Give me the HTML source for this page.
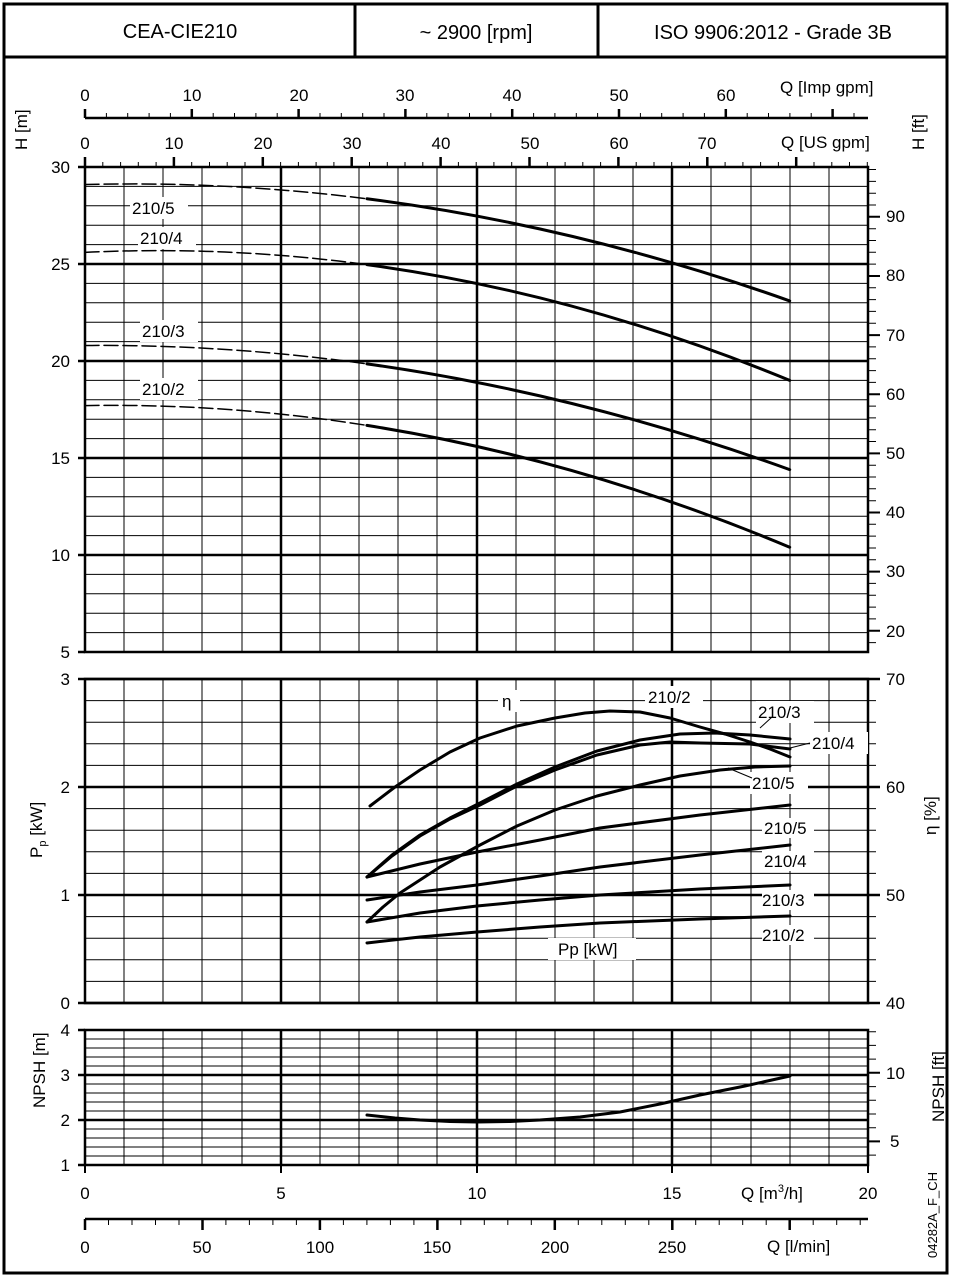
<!DOCTYPE html>
<html><head><meta charset="utf-8"><style>
html,body{margin:0;padding:0;background:#fff;}
svg{display:block;font-family:"Liberation Sans",Arial,sans-serif;}
</style></head><body>
<svg width="953" height="1278" viewBox="0 0 953 1278" xmlns="http://www.w3.org/2000/svg">
<rect x="0" y="0" width="953" height="1278" fill="#fff"/>
<g stroke="#000" fill="none">
<!-- thin verticals -->
<path stroke-width="1" d="M124 167V652M163 167V652M202 167V652M242 167V652M320 167V652M359 167V652M398 167V652M437 167V652M516 167V652M555 167V652M594 167V652M633 167V652M711 167V652M751 167V652M790 167V652M829 167V652
M124 679V1003M163 679V1003M202 679V1003M242 679V1003M320 679V1003M359 679V1003M398 679V1003M437 679V1003M516 679V1003M555 679V1003M594 679V1003M633 679V1003M711 679V1003M751 679V1003M790 679V1003M829 679V1003
M124 1030V1165M163 1030V1165M202 1030V1165M242 1030V1165M320 1030V1165M359 1030V1165M398 1030V1165M437 1030V1165M516 1030V1165M555 1030V1165M594 1030V1165M633 1030V1165M711 1030V1165M751 1030V1165M790 1030V1165M829 1030V1165"/>
<path stroke-width="2.5" d="M281 167V652M477 167V652M672 167V652M281 679V1003M477 679V1003M672 679V1003M281 1030V1165M477 1030V1165M672 1030V1165"/>
<!-- thin horizontals top -->
<path stroke-width="1" d="M85 632.6H868M85 613.2H868M85 593.8H868M85 574.4H868M85 535.6H868M85 516.2H868M85 496.8H868M85 477.4H868M85 438.6H868M85 419.2H868M85 399.8H868M85 380.4H868M85 341.6H868M85 322.2H868M85 302.8H868M85 283.4H868M85 244.6H868M85 225.2H868M85 205.8H868M85 186.4H868
M85 981.4H876M85 959.8H876M85 938.2H876M85 916.6H876M85 873.4H876M85 851.8H876M85 830.2H876M85 808.6H876M85 765.4H876M85 743.8H876M85 722.2H876M85 700.6H876
M85 1156H868M85 1147H868M85 1138H868M85 1129H868M85 1111H868M85 1102H868M85 1093H868M85 1084H868M85 1066H868M85 1057H868M85 1048H868M85 1039H868"/>
<path stroke-width="2.5" d="M78 555H868M78 458H868M78 361H868M78 264H868M78 167H85M78 652H85
M78 895H880M78 787H880M78 679H880M78 1003H880
M78 1120H868M78 1075H868M78 1030H85M78 1165H85"/>
<!-- right ft ticks top -->
<path stroke-width="1" d="M868 642.6h8M868 618.9h8M868 607.1h8M868 595.3h8M868 583.4h8M868 559.8h8M868 548h8M868 536.1h8M868 524.3h8M868 500.7h8M868 488.8h8M868 477h8M868 465.2h8M868 441.5h8M868 429.7h8M868 417.9h8M868 406.1h8M868 382.4h8M868 370.6h8M868 358.7h8M868 346.9h8M868 323.3h8M868 311.4h8M868 299.6h8M868 287.8h8M868 264.1h8M868 252.3h8M868 240.5h8M868 228.7h8M868 205h8M868 193.2h8M868 181.4h8M868 169.5h8
M868 1155.1h8M868 1127.7h8M868 1114h8M868 1100.3h8M868 1086.6h8M868 1059.1h8M868 1045.4h8M868 1031.7h8"/>
<path stroke-width="2" d="M868 630.7h12M868 571.6h12M868 512.5h12M868 453.4h12M868 394.2h12M868 335.1h12M868 276h12M868 216.8h12M868 1141.4h12M868 1072.8h12"/>
<!-- frames -->
<rect x="85" y="167" width="783" height="485" stroke-width="2.5"/>
<rect x="85" y="679" width="783" height="324" stroke-width="2.5"/>
<rect x="85" y="1030" width="783" height="135" stroke-width="2.5"/>
<path stroke-width="2" d="M85 1165v8M281 1165v8M477 1165v8M672 1165v8M868 1165v8"/>
<!-- Imp gpm axis -->
<path stroke-width="2.5" d="M85 118H868M85 118V109M191.8 118V109M298.6 118V109M405.4 118V109M512.2 118V109M619 118V109M725.8 118V109M832.6 118V109"/>
<path stroke-width="1" d="M106.4 118v-5M127.7 118v-5M149.1 118v-5M170.4 118v-5M213.2 118v-5M234.5 118v-5M255.9 118v-5M277.2 118v-5M320 118v-5M341.3 118v-5M362.7 118v-5M384 118v-5M426.8 118v-5M448.1 118v-5M469.5 118v-5M490.8 118v-5M533.6 118v-5M554.9 118v-5M576.3 118v-5M597.6 118v-5M640.4 118v-5M661.7 118v-5M683.1 118v-5M704.4 118v-5M747.2 118v-5M768.5 118v-5M789.9 118v-5M811.2 118v-5M854 118v-5"/>
<!-- US gpm ticks -->
<path stroke-width="2.5" d="M85 167v-10M173.9 167v-10M262.8 167v-10M351.7 167v-10M440.6 167v-10M529.5 167v-10M618.4 167v-10M707.3 167v-10M796.2 167v-10"/>
<path stroke-width="1" d="M102.8 167v-5M120.6 167v-5M138.3 167v-5M156.1 167v-5M191.7 167v-5M209.5 167v-5M227.2 167v-5M245 167v-5M280.6 167v-5M298.4 167v-5M316.1 167v-5M333.9 167v-5M369.5 167v-5M387.3 167v-5M405 167v-5M422.8 167v-5M458.4 167v-5M476.2 167v-5M493.9 167v-5M511.7 167v-5M547.3 167v-5M565.1 167v-5M582.8 167v-5M600.6 167v-5M636.2 167v-5M654 167v-5M671.7 167v-5M689.5 167v-5M725.1 167v-5M742.9 167v-5M760.6 167v-5M778.4 167v-5M814 167v-5M831.8 167v-5M849.5 167v-5M867.3 167v-5"/>
<!-- l/min axis -->
<path stroke-width="2.5" d="M85 1219H868M85 1219v11M202.5 1219v11M319.9 1219v11M437.4 1219v11M554.8 1219v11M672.3 1219v11M789.7 1219v11"/>
<path stroke-width="1" d="M108.5 1219v6M132 1219v6M155.5 1219v6M179 1219v6M225.9 1219v6M249.4 1219v6M272.9 1219v6M296.4 1219v6M343.4 1219v6M366.9 1219v6M390.4 1219v6M413.9 1219v6M460.8 1219v6M484.3 1219v6M507.8 1219v6M531.3 1219v6M578.3 1219v6M601.8 1219v6M625.3 1219v6M648.8 1219v6M695.7 1219v6M719.2 1219v6M742.7 1219v6M766.2 1219v6M813.2 1219v6M836.7 1219v6M860.2 1219v6"/>
</g>
<!-- curves -->
<g fill="none" stroke="#000" stroke-linecap="round" stroke-linejoin="round">
<g stroke-width="1.5" stroke-dasharray="14 5">
<path d="M85 184.5Q225.9 181 366.9 198.8"/>
<path d="M85 252.4Q225.9 245.6 366.9 264.6"/>
<path d="M85 345.5Q225.9 344.3 366.9 363.9"/>
<path d="M85 405.6Q225.9 403.2 366.9 425.4"/>
</g>
<g stroke-width="3">
<path d="M366.9 198.8Q578.3 225.8 789.7 300.9"/>
<path d="M366.9 264.6Q578.3 293.3 789.7 380.4"/>
<path d="M366.9 363.9Q578.3 393.4 789.7 469.6"/>
<path d="M366.9 425.4Q578.3 458.6 789.7 547.2"/>
<!-- efficiency -->
<path d="M370 806L395 787L420 770L450 752L480 738L517 726L555 718L585 713L610 711L640 712L670 718L700 727L725 734L750 742L770 749L790 757"/>
<path d="M367 877L392 855L420 835L450 818L480 803L517 784L555 767L597 751L640 740L680 734L715 733L750 735L790 739"/>
<path d="M367 877L392 856L420 836L450 819L480 805L517 786L555 770L597 755L640 745L670 742L700 743L750 744L790 749"/>
<path d="M367 922L383 907L400 893L440 867L480 845L517 826L555 810L597 796L640 785L680 776L720 770L755 767L790 766"/>
<!-- Pp -->
<path d="M367 877L420 864L477 852L540 840L600 828L700 815L790 805"/>
<path d="M367 900L420 892L477 885L540 876L600 867L700 855L790 845"/>
<path d="M367 922L420 913L477 906L540 900L600 895L700 889L790 885"/>
<path d="M367 943L420 937L477 932L540 927L600 923L700 919L790 916"/>
<!-- NPSH -->
<path d="M367 1115L395 1118L420 1120L450 1121.5L477 1122L510 1121.5L540 1120L580 1117L620 1112L660 1104L700 1095L745 1086L790 1076"/>
</g>
</g>
<!-- outer frame and header -->
<rect x="4" y="4" width="943" height="1269" fill="none" stroke="#000" stroke-width="3"/>
<line x1="4" y1="57" x2="947" y2="57" stroke="#000" stroke-width="3"/>
<line x1="355" y1="4" x2="355" y2="57" stroke="#000" stroke-width="3"/>
<line x1="598" y1="4" x2="598" y2="57" stroke="#000" stroke-width="3"/>
<g font-size="20" text-anchor="middle" fill="#000">
<text x="180" y="38">CEA-CIE210</text>
<text x="476" y="39">~ 2900 [rpm]</text>
<text x="773" y="39">ISO 9906:2012 - Grade 3B</text>
</g>
<g font-size="17" fill="#000">
<g text-anchor="middle">
<text x="85" y="101">0</text><text x="192" y="101">10</text><text x="299" y="101">20</text><text x="405" y="101">30</text><text x="512" y="101">40</text><text x="619" y="101">50</text><text x="726" y="101">60</text>
<text x="85" y="149">0</text><text x="174" y="149">10</text><text x="263" y="149">20</text><text x="352" y="149">30</text><text x="441" y="149">40</text><text x="530" y="149">50</text><text x="619" y="149">60</text><text x="707" y="149">70</text>
</g>
<text x="780" y="93">Q [Imp gpm]</text>
<text x="781" y="148">Q [US gpm]</text>
<g text-anchor="end">
<text x="70" y="173">30</text><text x="70" y="270">25</text><text x="70" y="367">20</text><text x="70" y="464">15</text><text x="70" y="561">10</text><text x="70" y="658">5</text>
<text x="70" y="685">3</text><text x="70" y="793">2</text><text x="70" y="901">1</text><text x="70" y="1009">0</text>
<text x="70" y="1036">4</text><text x="70" y="1081">3</text><text x="70" y="1126">2</text><text x="70" y="1171">1</text>
</g>
<g>
<text x="886" y="222">90</text><text x="886" y="281">80</text><text x="886" y="341">70</text><text x="886" y="400">60</text><text x="886" y="459">50</text><text x="886" y="518">40</text><text x="886" y="577">30</text><text x="886" y="637">20</text>
<text x="886" y="685">70</text><text x="886" y="793">60</text><text x="886" y="901">50</text><text x="886" y="1009">40</text>
<text x="886" y="1079">10</text><text x="890" y="1147">5</text>
</g>
<g text-anchor="middle">
<text x="85" y="1199">0</text><text x="281" y="1199">5</text><text x="477" y="1199">10</text><text x="672" y="1199">15</text><text x="868" y="1199">20</text>
<text x="85" y="1253">0</text><text x="202" y="1253">50</text><text x="320" y="1253">100</text><text x="437" y="1253">150</text><text x="555" y="1253">200</text><text x="672" y="1253">250</text>
</g>
<text x="741" y="1199">Q [m<tspan font-size="11" dy="-7">3</tspan><tspan dy="7">/h]</tspan></text>
<text x="767" y="1252">Q [l/min]</text>
<text transform="translate(27,150) rotate(-90)">H [m]</text>
<text transform="translate(924,150) rotate(-90)">H [ft]</text>
<text transform="translate(42,858) rotate(-90)">P<tspan font-size="11" dy="4">p</tspan><tspan dy="-4"> [kW]</tspan></text>
<text transform="translate(936,835) rotate(-90)">η [%]</text>
<text transform="translate(45,1108) rotate(-90)">NPSH [m]</text>
<text transform="translate(944,1122) rotate(-90)">NPSH [ft]</text>
<text font-size="13" transform="translate(937,1258) rotate(-90)">04282A_F_CH</text>
</g>
<g font-size="17" fill="#000">
<rect x="130" y="197" width="58" height="22" fill="#fff"/><text x="132" y="214">210/5</text>
<rect x="138" y="227" width="58" height="22" fill="#fff"/><text x="140" y="244">210/4</text>
<rect x="140" y="320" width="58" height="22" fill="#fff"/><text x="142" y="337">210/3</text>
<rect x="140" y="378" width="58" height="22" fill="#fff"/><text x="142" y="395">210/2</text>
<rect x="498" y="690" width="22" height="22" fill="#fff"/><text x="502" y="707">η</text>
<rect x="645" y="686" width="58" height="22" fill="#fff"/><text x="648" y="703">210/2</text>
<rect x="756" y="701" width="58" height="22" fill="#fff"/><text x="758" y="718">210/3</text>
<rect x="810" y="732" width="58" height="22" fill="#fff"/><text x="812" y="749">210/4</text>
<rect x="750" y="772" width="58" height="22" fill="#fff"/><text x="752" y="789">210/5</text>
<rect x="762" y="818" width="52" height="20" fill="#fff"/><text x="764" y="834">210/5</text>
<rect x="762" y="851" width="52" height="20" fill="#fff"/><text x="764" y="867">210/4</text>
<rect x="762" y="890" width="52" height="20" fill="#fff"/><text x="762" y="906">210/3</text>
<rect x="762" y="925" width="52" height="20" fill="#fff"/><text x="762" y="941">210/2</text>
<rect x="548" y="938" width="88" height="22" fill="#fff"/><text x="558" y="955">Pp [kW]</text>
</g>
<g stroke="#000" stroke-width="1">
<line x1="772" y1="717" x2="760" y2="728"/>
<line x1="810" y1="743" x2="790" y2="748"/>
<line x1="752" y1="778" x2="728" y2="768"/>
</g>
</svg>
</body></html>
